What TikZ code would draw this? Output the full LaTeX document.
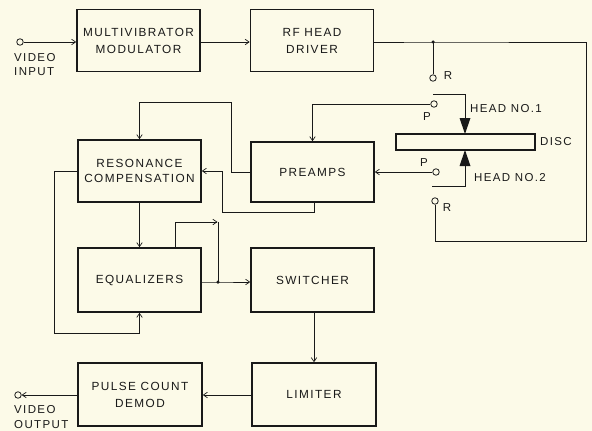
\documentclass[tikz,border=0pt]{standalone}
\usepackage{fontspec}
\setmainfont{Liberation Sans}[LetterSpace=12]
\usetikzlibrary{arrows.meta}
\definecolor{paper}{RGB}{252,250,232}
\definecolor{ink}{RGB}{25,25,25}
\begin{document}
\begin{tikzpicture}[x=1pt,y=-1pt,
  blk/.style={draw=ink,line width=1.6pt,minimum width=123pt,minimum height=62pt,inner sep=0pt,align=center,
    font=\fontsize{11.8}{17}\selectfont,text=ink},
  wire/.style={draw=ink,line width=0.7pt},
  arr/.style={wire,-{Straight Barb[length=4pt,width=5.5pt,line width=0.7pt]}},
  term/.style={circle,draw=ink,line width=0.8pt,inner sep=0pt,minimum size=6.5pt},
  lbl/.style={inner sep=0pt,text=ink,font=\fontsize{11.5}{14.5}\selectfont},
  dot/.style={circle,fill=ink,inner sep=0pt,minimum size=3.5pt}]
\useasboundingbox[fill=paper] (0,0) rectangle (592,431);

% blocks
\node[blk] (mm) at (138.5,40.5) {MULTIVIBRATOR\\MODULATOR};
\node[blk] (rf) at (312,40.5) {RF HEAD\\DRIVER};
\node[blk,font=\fontsize{11.8}{15}\selectfont] (rc) at (139.5,171) {RESONANCE\\COMPENSATION};
\node[blk,minimum height=60pt] (pa) at (312.5,172) {PREAMPS};
\node[blk,minimum height=64pt] (eq) at (139.5,280) {EQUALIZERS};
\node[blk,minimum height=64pt] (sw) at (312.5,280) {SWITCHER};
\node[blk,minimum width=124pt,minimum height=63pt] (pc) at (140,394.5) {PULSE COUNT\\DEMOD};
\node[blk,minimum width=124pt,minimum height=63pt] (li) at (314,394.5) {LIMITER};

% disc
\node[draw=ink,line width=1.5pt,minimum width=139pt,minimum height=16pt,inner sep=0pt] (disc) at (465.5,142) {};

% terminals
\node[term] (vin) at (20,42) {};
\node[term] (vout) at (18,395) {};
\node[term] (rup) at (433,78) {};
\node[term] (pup) at (434,104) {};
\node[term] (plo) at (436,172) {};
\node[term] (rlo) at (435,201) {};

% junctions
\node[dot] (j1) at (433,42) {};
\node[dot] (j2) at (218,282) {};
\coordinate (c1) at (586,42);
\coordinate (c2) at (586,241);
\coordinate (c3) at (435,241);

% labels
\node[lbl,align=left,anchor=west] (lin) at (14,64.5) {VIDEO\\INPUT};
\node[lbl,align=left,anchor=west] (lout) at (14,417) {VIDEO\\OUTPUT};
\node[lbl] (lr1) at (448,76) {R};
\node[lbl] (lp1) at (427,117) {P};
\node[lbl] (lh1) at (506,108.5) {HEAD NO.1};
\node[lbl] (ld) at (556,142) {DISC};
\node[lbl] (lh2) at (510,177.5) {HEAD NO.2};
\node[lbl] (lp2) at (424,163) {P};
\node[lbl] (lr2) at (447,208) {R};

% heads
\draw[wire] (433,94) -- (465,94) -- (465,118);
\fill[ink] (459.5,118) -- (470.5,118) -- (465,134) -- cycle;
\fill[ink] (459.5,166) -- (470.5,166) -- (465,150) -- cycle;
\draw[wire] (465,166) -- (465,186) -- (432,186);

% signal path
\draw[arr] (vin.east) -- (vin -| mm.west);
\draw[arr] (mm.east |- vin) -- (rf.west |- vin);
\draw[wire] (rf.east |- j1) -- (j1.center) -- (c1) -- (c2) -- (c3) -- (rlo.south);
\draw[wire] (j1.center) -- (rup.north);
\draw[arr] (pup.west) -- (pup -| pa.north) -- (pa.north);
\draw[arr] (plo.west) -- (plo -| pa.east);
\draw[arr] (pa.west) -- (231,172) -- (231,102) -- (102,102 -| rc.north) -- (rc.north);
\draw[arr] (pa.south -| 314,0) -- (314,212) -- (222,212) -- (222,171) -- (rc.east);
\draw[arr] (rc.south) -- (eq.north);
\draw[arr] (rc.west) -- (54,171) -- (54,333) -- (333,0 |- 0,333 -| eq.south) -- (eq.south);
\draw[arr] (eq.north -| 175,0) -- (175,222) -- (217.5,222);
\draw[wire] (218,222) -- (j2.center);
\draw[arr] (eq.east |- j2) -- (j2.center) -- (sw.west |- j2);
\draw[arr] (sw.south -| li.north) -- (li.north);
\draw[arr] (li.west |- 0,395) -- (pc.east |- 0,395);
\draw[arr] (pc.west |- vout) -- (vout.east);
\end{tikzpicture}
\end{document}
